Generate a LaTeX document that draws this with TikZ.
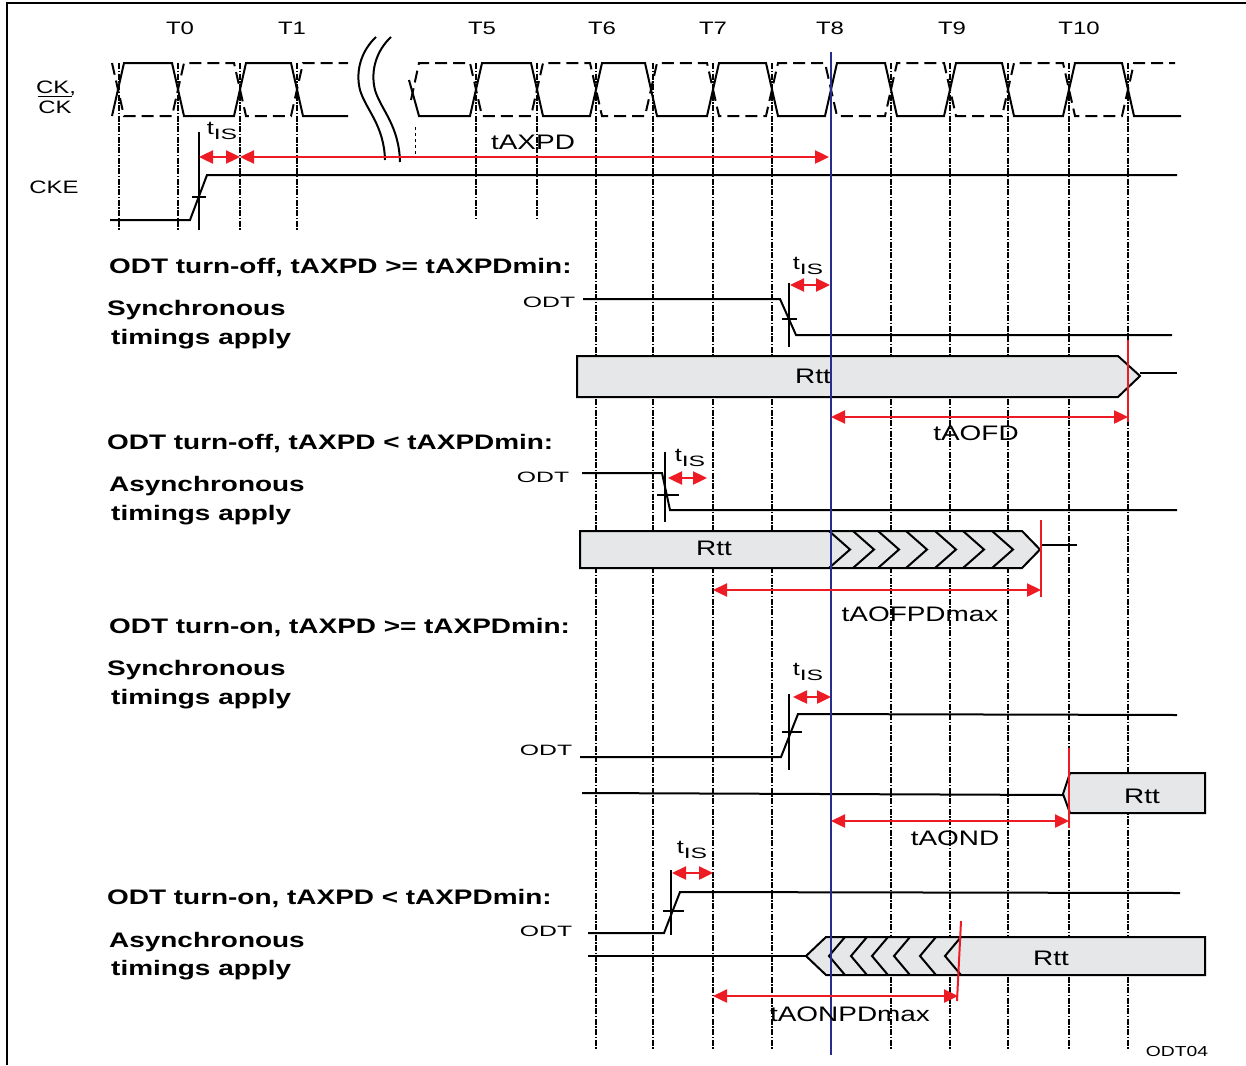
\documentclass[tikz,border=0pt]{standalone}
\usepackage{fontspec}
\setmainfont{Liberation Sans}
\newfontfamily\wfont[FakeStretch=1.33]{Liberation Sans}
\newfontfamily\xwfont[FakeStretch=1.65]{Liberation Sans}
\usetikzlibrary{arrows.meta}
\definecolor{rttgray}{RGB}{230,231,232}
\definecolor{tred}{RGB}{237,28,36}
\definecolor{tblue}{RGB}{40,44,140}
\def\tis{t\raisebox{-0.45ex}{\xwfont\fontsize{15}{15}\selectfont IS}}
\tikzset{
	sig/.style={line width=2pt},
	ckb/.style={line width=2pt, dash pattern=on 12pt off 6pt},
	clk/.style={line width=1.4pt, dash pattern=on 6pt off 1.5pt on 1.5pt off 1.5pt},
	meas/.style={draw=tred, line width=2.4pt, {Triangle[length=14pt,width=13pt]}-{Triangle[length=14pt,width=13pt]}},
	redge/.style={draw=tred, line width=2pt},
	rttbar/.style={draw, line width=2pt, fill=rttgray},
	txt/.style={font=\wfont\fontsize{21}{24}\selectfont, inner sep=0pt},
	tl/.style={font=\wfont\fontsize{18}{21}\selectfont, inner sep=0pt},
	hd/.style={font=\wfont\bfseries\fontsize{21}{24}\selectfont, inner sep=0pt, anchor=west},
	sm/.style={font=\xwfont\fontsize{15}{18}\selectfont, inner sep=0pt},
}

\begin{document}
\begin{tikzpicture}[x=1pt,y=-1pt]
			%%%%% START %%%%%
			\useasboundingbox (0,0) rectangle (1246,1065);
			\draw[line width=1.5pt] (7,1065) -- (7,3) -- (1246,3);
			
			\node[tl] (t0) at (180,28) {T0};
			\node[tl] (t1) at (292,28) {T1};
			\node[tl] (t5) at (482,28) {T5};
			\node[tl] (t6) at (602,28) {T6};
			\node[tl] (t7) at (713,28) {T7};
			\node[tl] (t8) at (830,28) {T8};
			\node[tl] (t9) at (952,28) {T9};
			\node[tl] (t10) at (1079,28) {T10};
			
			\node[tl] (ck) at (56,88) {CK,};
			\node[tl] (ckn) at (55,107) {CK};
			\draw[line width=1.4pt] ([yshift=4pt]ckn.north west) -- ([yshift=4pt]ckn.north east);
			\node[tl] (cke) at (54,187) {CKE};
			
			\foreach \x in {119,178,240,297} \draw[clk] (\x,63) -- (\x,230);
			\draw[clk] (476,63) -- (476,218);
			\draw[clk] (537,63) -- (537,220);
			\foreach \x in {596,653,713,772,891,950,1008,1069,1128} \draw[clk] (\x,63) -- (\x,1050);
			\draw[line width=0.8pt, dashed] (415,127) -- (415,157);
			
			\draw[sig] (112,116) -- (124,63) -- (172,63) -- (184,116) -- (234,116) -- (246,63) -- (291,63) -- (303,116) -- (348,116);
			\draw[ckb] (112,63) -- (124,116) -- (172,116) -- (184,63) -- (234,63) -- (246,116) -- (291,116) -- (303,63) -- (348,63);
			\draw[sig] (409,80) -- (419,116) \foreach \r/\f in {476/537,596/651,713/772,831/891,950/1008,1069/1128} { -- (\r-6,116) -- (\r+6,63) -- (\f-6,63) -- (\f+6,116) } -- (1181,116);
			\draw[ckb] (411,100) -- (419,63) \foreach \r/\f in {476/537,596/651,713/772,831/891,950/1008,1069/1128} { -- (\r-6,63) -- (\r+6,116) -- (\f-6,116) -- (\f+6,63) } -- (1175,63);
			
			\draw[sig] (376,37) .. controls (362,50) and (355,70) .. (360,90) .. controls (366,110) and (384,125) .. (385,160);
			\draw[sig] (391,37) .. controls (377,50) and (370,70) .. (375,90) .. controls (381,110) and (399,125) .. (400,162);
			
			\draw[sig] (110,220) -- (190,220) -- (207,175) -- (1177,175);
			\draw[sig] (199,132) -- (199,230) (192,197) -- (206,197);
			\draw[meas] (199,157) -- (240,157);
			\draw[meas] (240,157) -- (829,157);
			\node[txt, font=\wfont\fontsize{19}{22}\selectfont] (tisa) at (222,131) {\tis};
			\node[txt] (taxpd) at (533,142) {tAXPD};
			
			\node[hd] (offsync) at (109,268) {ODT turn-off, tAXPD >= tAXPDmin:};
			\node[hd] (syna) at (107,310) {Synchronous};
			\node[hd] (tima) at (111,339) {timings apply};
			\node[sm] (odta) at (549,302) {ODT};
			\draw[sig] (583,299) -- (780,299) -- (796,335) -- (1172,335);
			\draw[sig] (789,283) -- (789,347) (782,319) -- (797,319);
			\draw[meas] (790,285) -- (830,285);
			\node[txt, font=\wfont\fontsize{19}{22}\selectfont] (tisb) at (808,266) {\tis};
			\draw[rttbar] (577,356) -- (1118,356) -- (1140,376) -- (1118,397) -- (577,397) -- cycle;
			\node[txt] (rtta) at (813,376) {Rtt};
			\draw[sig] (1140,373) -- (1177,373);
			
			\node[hd] (offasync) at (107,444) {ODT turn-off, tAXPD < tAXPDmin:};
			\node[hd] (asyb) at (109,486) {Asynchronous};
			\node[hd] (timb) at (111,515) {timings apply};
			\node[sm] (odtb) at (543,477) {ODT};
			\draw[sig] (582,473) -- (662,473) -- (670,510) -- (1177,510);
			\draw[sig] (665,452) -- (665,522) (657,495) -- (679,495);
			\draw[meas] (668,478) -- (707,478);
			\node[txt, font=\wfont\fontsize{19}{22}\selectfont] (tisc) at (690,458) {\tis};
			\draw[rttbar] (580,531) -- (1022,531) -- (1040,549.5) -- (1022,568) -- (580,568) -- cycle;
			\foreach \s in {829,853,878,906,935,963,992} \draw[sig] (\s,531) -- (\s+21,549.5) -- (\s,568);
			\node[txt] (rttb) at (714,548) {Rtt};
			\draw[sig] (1040,545) -- (1077,545);
			
			\node[hd] (onsync) at (109,628) {ODT turn-on, tAXPD >= tAXPDmin:};
			\node[hd] (sync) at (107,670) {Synchronous};
			\node[hd] (timc) at (111,699) {timings apply};
			\node[sm] (odtc) at (546,750) {ODT};
			\draw[sig] (580,757) -- (781,757) -- (798,714) -- (1177,715);
			\draw[sig] (789,694) -- (789,770) (782,732) -- (802,732);
			\draw[meas] (793,697) -- (831,697);
			\node[txt, font=\wfont\fontsize{19}{22}\selectfont] (tisd) at (808,672) {\tis};
			\draw[sig] (582,793) -- (1063,795);
			\draw[rttbar] (1063,794) -- (1070,773) -- (1205,773) -- (1205,813) -- (1070,813) -- cycle;
			\node[txt] (rttc) at (1142,796) {Rtt};
			
			\node[txt, font=\wfont\fontsize{19}{22}\selectfont] (tise) at (692,850) {\tis};
			\draw[meas] (672,873) -- (713,873);
			\node[hd] (onasync) at (107,899) {ODT turn-on, tAXPD < tAXPDmin:};
			\node[hd] (asyd) at (109,942) {Asynchronous};
			\node[hd] (timd) at (111,970) {timings apply};
			\node[sm] (odtd) at (546,931) {ODT};
			\draw[sig] (588,933) -- (664,933) -- (680,892) -- (1180,893);
			\draw[sig] (671,870) -- (671,935) (663,911) -- (684,911);
			\draw[sig] (588,956) -- (806,956);
			\draw[rttbar] (806,956) -- (826,937) -- (1205,937) -- (1205,975) -- (826,975) -- cycle;
			\foreach \s in {829,851,872,894,920,945} \draw[sig] (\s+16,937) -- (\s,956) -- (\s+16,975);
			\node[txt] (rttd) at (1051,958) {Rtt};
			
			\draw[tblue, line width=2pt] (831,52) -- (831,1055);
			
			\draw[redge] (1128,340) -- (1128,422);
			\draw[meas] (831,417) -- (1128,417);
			\node[txt] (taofd) at (976,433) {tAOFD};
			
			\draw[redge] (1041,520) -- (1041,597);
			\draw[meas] (713,590) -- (1041,590);
			\node[txt] (taofpd) at (920,614) {tAOFPDmax};
			
			\draw[redge] (1069,748) -- (1069,828);
			\draw[meas] (831,821) -- (1069,821);
			\node[txt] (taond) at (955,838) {tAOND};
			
			\draw[redge] (961,921) -- (957,1001);
			\draw[meas] (713,996) -- (958,996);
			\node[txt] (taonpd) at (850,1014) {tAONPDmax};
			
			\node[txt, font=\wfont\fontsize{14.5}{17}\selectfont] (odtfig) at (1177,1051) {ODT04};
			%%%%% END %%%%%
\end{tikzpicture}
\end{document}
